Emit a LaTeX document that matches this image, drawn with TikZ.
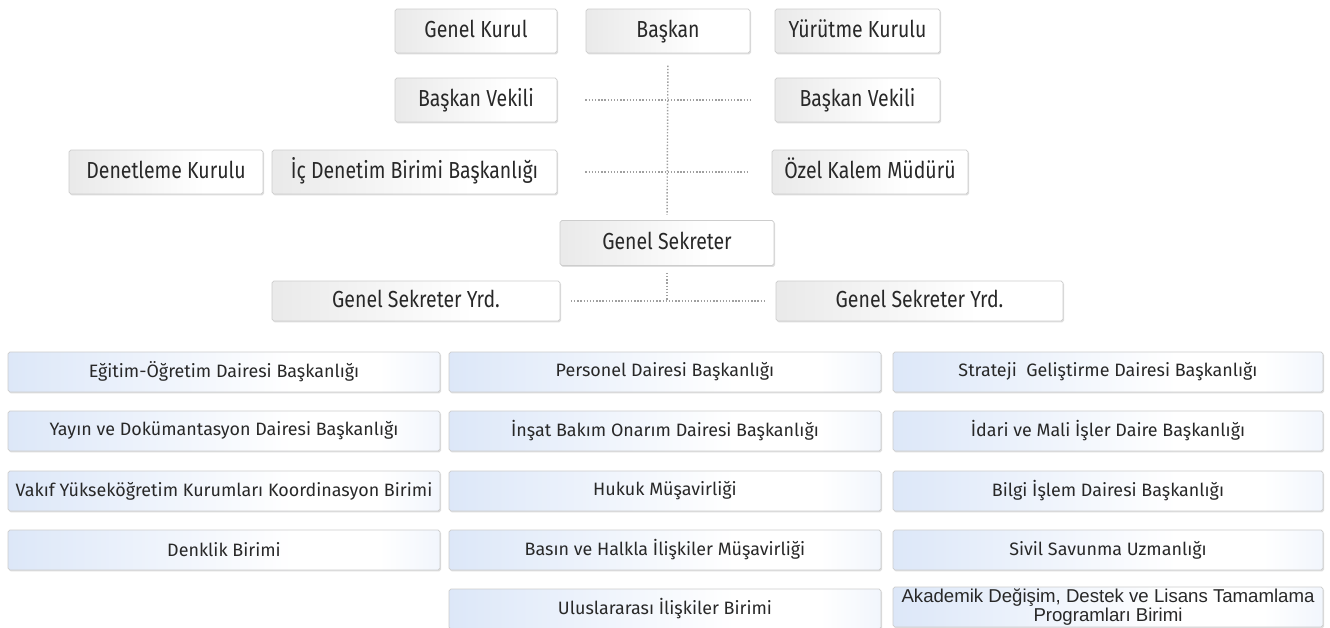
\documentclass[tikz,border=0pt]{standalone}
\usepackage{fontspec}
\setmainfont{Fira Sans}
\newfontfamily\headfont[FakeStretch=0.84]{Fira Sans}
\newfontfamily\plainfont{Liberation Sans}
\usetikzlibrary{shadows, positioning}

\definecolor{boxgray}{RGB}{218, 218, 218}
\definecolor{edgegray}{RGB}{205, 205, 205}
\definecolor{unitblue}{RGB}{194, 213, 243}
\definecolor{inkgray}{RGB}{40, 40, 40}
\definecolor{linegray}{RGB}{160, 160, 160}

\pgfdeclarehorizontalshading{headshade}{100bp}{color(0bp)=(boxgray); color(60bp)=(white); color(78bp)=(white); color(100bp)=(boxgray!70)}
\pgfdeclarehorizontalshading{unitshade}{100bp}{color(0bp)=(unitblue); color(58bp)=(white); color(68bp)=(white); color(100bp)=(unitblue)}

\tikzset{
  headbox/.style={draw=edgegray, shading=headshade, rounded corners=1pt, inner sep=0pt,
    minimum height=0.88cm, text=inkgray, text height=1.8ex, text depth=0.4ex,
    font=\headfont\fontsize{13.2}{15}\selectfont,
    drop shadow={shadow xshift=0.6pt, shadow yshift=-0.8pt, opacity=0.25}},
  unitbox/.style={draw=edgegray, shading=unitshade, rounded corners=1pt, inner sep=0pt,
    minimum width=8.64cm, minimum height=0.8cm, text=inkgray, font=\fontsize{10.2}{12}\selectfont,
    drop shadow={shadow xshift=0.6pt, shadow yshift=-0.8pt, opacity=0.25}},
  link/.style={draw=linegray, densely dotted, line width=0.8pt}
}

\begin{document}
\begin{tikzpicture}[x=0.02cm, y=-0.02cm]
  \path[use as bounding box, fill=white] (0,0) rectangle (1330,627);

  % upper part
  \node[headbox, minimum width=3.24cm] (genelkurul) at (476,31) {Genel Kurul};
  \node[headbox, minimum width=3.28cm] (baskan) at (668,31) {Başkan};
  \node[headbox, minimum width=3.30cm] (yurutme) at (857.5,31) {Yürütme Kurulu};
  \node[headbox, minimum width=3.24cm] (vekilsol) at (476,100) {Başkan Vekili};
  \node[headbox, minimum width=3.30cm] (vekilsag) at (857.5,100) {Başkan Vekili};
  \node[headbox, minimum width=3.88cm] (denetleme) at (166,172) {Denetleme Kurulu};
  \node[headbox, minimum width=5.70cm] (icdenetim) at (414.5,172) {İç Denetim Birimi Başkanlığı};
  \node[headbox, minimum width=3.92cm] (ozelkalem) at (870,172) {Özel Kalem Müdürü};
  \node[headbox, minimum width=4.28cm, minimum height=0.9cm] (gensek) at (667,243) {Genel Sekreter};
  \node[headbox, minimum width=5.76cm, minimum height=0.8cm] (yrdsol) at (416,301) {Genel Sekreter Yrd.};
  \node[headbox, minimum width=5.74cm, minimum height=0.8cm] (yrdsag) at (919.5,301) {Genel Sekreter Yrd.};

  \draw[link, shorten <=7pt, shorten >=3pt] (baskan.south) -- (gensek.north);
  \draw[link, shorten <=4pt] (gensek.south) -- (gensek.south |- yrdsol.east);
  \draw[link, shorten <=16pt, shorten >=13pt] (vekilsol.east) -- (vekilsag.west);
  \draw[link, shorten <=16pt, shorten >=13pt] (icdenetim.east) -- (ozelkalem.west);
  \draw[link, shorten <=6pt, shorten >=5pt] (yrdsol.east) -- (yrdsag.west);

  % units
  \node[unitbox] (egitim) at (224,372) {Eğitim-Öğretim Dairesi Başkanlığı};
  \node[unitbox] (yayin) at (224,431) {Yayın ve Dokümantasyon Dairesi Başkanlığı};
  \node[unitbox] (vakif) at (224,491) {Vakıf Yükseköğretim Kurumları Koordinasyon Birimi};
  \node[unitbox] (denklik) at (224,550) {Denklik Birimi};

  \node[unitbox] (personel) at (665,372) {Personel Dairesi Başkanlığı};
  \node[unitbox] (insat) at (665,431) {İnşat Bakım Onarım Dairesi Başkanlığı};
  \node[unitbox] (hukuk) at (665,491) {Hukuk Müşavirliği};
  \node[unitbox] (basin) at (665,550) {Basın ve Halkla İlişkiler Müşavirliği};
  \node[unitbox] (uluslar) at (665,609) {Uluslararası İlişkiler Birimi};

  \node[unitbox, minimum width=8.6cm] (strateji) at (1108,372) {Strateji\ \ Geliştirme Dairesi Başkanlığı};
  \node[unitbox, minimum width=8.6cm] (idari) at (1108,431) {İdari ve Mali İşler Daire Başkanlığı};
  \node[unitbox, minimum width=8.6cm] (bilgi) at (1108,491) {Bilgi İşlem Dairesi Başkanlığı};
  \node[unitbox, minimum width=8.6cm] (sivil) at (1108,550) {Sivil Savunma Uzmanlığı};
  \node[unitbox, minimum width=8.6cm, align=center, font=\plainfont\fontsize{10.6}{9}\selectfont] (akademik) at (1108,607)
    {Akademik Değişim, Destek ve Lisans Tamamlama\\Programları Birimi};
\end{tikzpicture}
\end{document}
